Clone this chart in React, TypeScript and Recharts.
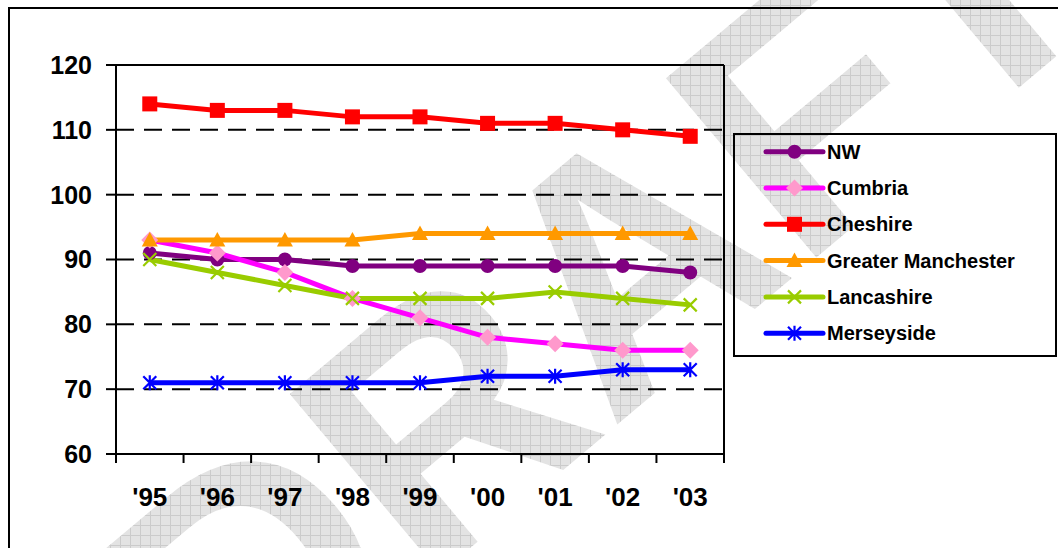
import React from "react";
import { CartesianGrid, Line, LineChart, XAxis, YAxis } from "recharts";

const years = ["'95", "'96", "'97", "'98", "'99", "'00", "'01", "'02", "'03"];
const nw = [91, 90, 90, 89, 89, 89, 89, 89, 88];
const cumbria = [93, 91, 88, 84, 81, 78, 77, 76, 76];
const cheshire = [114, 113, 113, 112, 112, 111, 111, 110, 109];
const greaterManchester = [93, 93, 93, 93, 94, 94, 94, 94, 94];
const lancashire = [90, 88, 86, 84, 84, 84, 85, 84, 83];
const merseyside = [71, 71, 71, 71, 71, 72, 72, 73, 73];
const yTicks = [60, 70, 80, 90, 100, 110, 120];

type Shape = "circle" | "diamond" | "square" | "triangle" | "cross" | "star";

const series: { key: string; name: string; values: number[]; line: string; marker: string; shape: Shape }[] = [
  { key: "nw", name: "NW", values: nw, line: "#800080", marker: "#800080", shape: "circle" },
  { key: "cumbria", name: "Cumbria", values: cumbria, line: "#ff00ff", marker: "#ff99cc", shape: "diamond" },
  { key: "cheshire", name: "Cheshire", values: cheshire, line: "#ff0000", marker: "#ff0000", shape: "square" },
  { key: "gm", name: "Greater Manchester", values: greaterManchester, line: "#ff9900", marker: "#ff9900", shape: "triangle" },
  { key: "lancs", name: "Lancashire", values: lancashire, line: "#99cc00", marker: "#99cc00", shape: "cross" },
  { key: "mersey", name: "Merseyside", values: merseyside, line: "#0000ff", marker: "#0000ff", shape: "star" }
];

const data = years.map((year, i) => {
  const row: Record<string, string | number> = { year };
  series.forEach((s) => {
    row[s.key] = s.values[i];
  });
  return row;
});

const FONT = "'Liberation Sans', Arial, sans-serif";
const W = 1058;
const H = 548;
const MARGIN = { top: 64, right: 333, bottom: 34, left: 16 };
const Y_AXIS_W = 100;
const X_AXIS_H = 60;
const PLOT_W = W - MARGIN.left - Y_AXIS_W - MARGIN.right - 1;
const BAND = PLOT_W / years.length;
const X_TICK = 9;
const LINE_W = 5;

function Marker({ shape, color, cx, cy }: { shape: Shape; color: string; cx: number; cy: number }) {
  switch (shape) {
    case "circle":
      return <circle cx={cx} cy={cy} r={7} fill={color} />;
    case "diamond":
      return <polygon points={`${cx},${cy - 8.5} ${cx + 8.5},${cy} ${cx},${cy + 8.5} ${cx - 8.5},${cy}`} fill={color} />;
    case "square":
      return <rect x={cx - 7.5} y={cy - 7.5} width={15} height={15} fill={color} />;
    case "triangle":
      return <polygon points={`${cx},${cy - 8} ${cx + 8},${cy + 6.5} ${cx - 8},${cy + 6.5}`} fill={color} />;
    case "cross":
      return (
        <path d={`M${cx - 6.5},${cy - 6.5}L${cx + 6.5},${cy + 6.5}M${cx + 6.5},${cy - 6.5}L${cx - 6.5},${cy + 6.5}`} stroke={color} strokeWidth={2.2} />
      );
    case "star":
      return (
        <path
          d={`M${cx},${cy - 7.5}L${cx},${cy + 7.5}M${cx - 6.5},${cy - 6.5}L${cx + 6.5},${cy + 6.5}M${cx + 6.5},${cy - 6.5}L${cx - 6.5},${cy + 6.5}`}
          stroke={color}
          strokeWidth={2.2}
        />
      );
  }
  return null;
}

// category labels sit in the middle of each band, tick marks on the band edges
function YearTick(props: any) {
  const { x, y, payload, index } = props;
  return (
    <g>
      <line x1={x - BAND / 2} x2={x - BAND / 2} y1={y - X_TICK} y2={y} stroke="#000" strokeWidth={2} />
      {index === years.length - 1 && (
        <line x1={x + BAND / 2} x2={x + BAND / 2} y1={y - X_TICK} y2={y} stroke="#000" strokeWidth={2} />
      )}
      <text x={x} y={y + 43} textAnchor="middle" fontSize={26} fontWeight="bold" fontFamily={FONT} fill="#000">
        {payload.value}
      </text>
    </g>
  );
}

function LegendBox() {
  return (
    <svg width={325} height={224} style={{ position: "absolute", left: 733, top: 133 }}>
      <rect x={1} y={1} width={322} height={222} fill="none" stroke="#000" strokeWidth={2} />
      {series.map((s, i) => {
        const cy = 18.7 + i * 36.3;
        return (
          <g key={s.key}>
            <line x1={33} x2={90} y1={cy} y2={cy} stroke={s.line} strokeWidth={LINE_W} strokeLinecap="round" />
            <Marker shape={s.shape} color={s.marker} cx={61.5} cy={cy} />
            <text x={94} y={cy + 7} fontSize={20} fontWeight="bold" fontFamily={FONT} fill="#000">
              {s.name}
            </text>
          </g>
        );
      })}
    </svg>
  );
}

function Watermark() {
  return (
    <svg width={W} height={H} style={{ position: "absolute", left: 0, top: 0 }}>
      <defs>
        <pattern id="wmGrid" width="10" height="10" patternUnits="userSpaceOnUse" patternTransform="rotate(40)">
          <rect width="10" height="10" fill="#e3e3e3" />
          <path d="M0 0.5H10M0.5 0V10" stroke="#cbcbcb" strokeWidth={1} />
        </pattern>
      </defs>
      <text
        transform="translate(600 285) rotate(-40)"
        textAnchor="middle"
        dominantBaseline="central"
        fontSize={340}
        fontWeight="bold"
        fontFamily={FONT}
        fill="url(#wmGrid)"
      >
        DRAFT
      </text>
    </svg>
  );
}

export default function App() {
  return (
    <div style={{ position: "absolute", left: 0, top: 0, width: W, height: H, overflow: "hidden", background: "#fff" }}>
      <Watermark />
      <div
        style={{
          position: "absolute",
          left: 8,
          top: 7,
          width: 1200,
          height: 700,
          border: "2px solid #000"
        }}
      />
      <div style={{ position: "absolute", left: 0, top: 0 }}>
        <LineChart width={W} height={H} data={data} margin={MARGIN}>
          <CartesianGrid vertical={false} stroke="#000" strokeWidth={2} strokeDasharray="18 10" />
          <XAxis
            dataKey="year"
            interval={0}
            height={X_AXIS_H}
            padding={{ left: BAND / 2, right: BAND / 2 }}
            tickLine={false}
            tickSize={X_TICK}
            tickMargin={0}
            axisLine={{ stroke: "#000", strokeWidth: 2 }}
            tick={<YearTick />}
          />
          <XAxis
            xAxisId="top"
            orientation="top"
            dataKey="year"
            height={1}
            tick={false}
            tickLine={false}
            axisLine={{ stroke: "#000", strokeWidth: 2 }}
          />
          <YAxis
            domain={[60, 120]}
            ticks={yTicks}
            interval={0}
            width={Y_AXIS_W}
            tickSize={10}
            tickMargin={14}
            axisLine={{ stroke: "#000", strokeWidth: 2 }}
            tickLine={{ stroke: "#000", strokeWidth: 2 }}
            tick={{ fontSize: 25, fontWeight: "bold", fontFamily: FONT, fill: "#000" }}
          />
          <YAxis
            yAxisId="right"
            orientation="right"
            domain={[60, 120]}
            width={1}
            tick={false}
            tickLine={false}
            axisLine={{ stroke: "#000", strokeWidth: 2 }}
          />
          {series.map((s) => (
            <Line
              key={s.key}
              type="linear"
              dataKey={s.key}
              name={s.name}
              stroke={s.line}
              strokeWidth={LINE_W}
              isAnimationActive={false}
              activeDot={false}
              dot={(p: any) => <Marker key={`${s.key}-${p.index}`} shape={s.shape} color={s.marker} cx={p.cx} cy={p.cy} />}
            />
          ))}
        </LineChart>
      </div>
      <LegendBox />
    </div>
  );
}
